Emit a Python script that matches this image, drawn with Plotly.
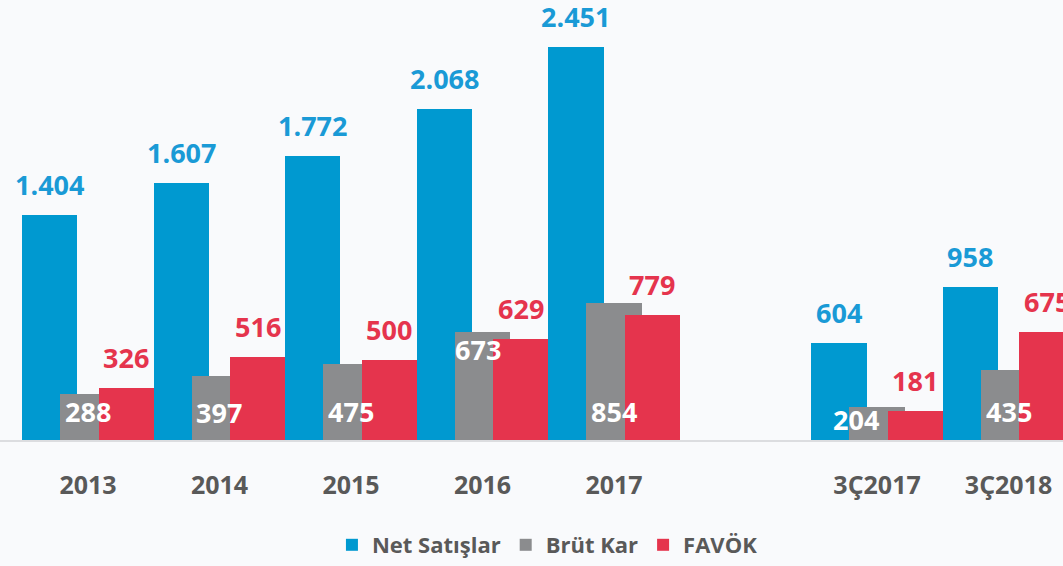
import plotly.graph_objects as go

# data
CATEGORIES = ['2013', '2014', '2015', '2016', '2017', '3Ç2017', '3Ç2018']
NET_SATIS = [1404, 1607, 1772, 2068, 2451, 604, 958]
BRUT_KAR = [288, 397, 475, 673, 854, 204, 435]
FAVOK = [326, 516, 500, 629, 779, 181, 675]

BLUE = '#0099d0'
GREY = '#8b8c8e'
RED = '#e5344d'
TEXT_GREY = '#595959'
FONT = 'Open Sans'

BAR_W = 0.42
OFFSETS = {'net': -0.5, 'brut': -0.21, 'favok': 0.08}

# Brüt Kar labels sit inside the bar, hand placed (data units of baseline)
BRUT_LABEL_Y = [118, 111, 118, 507, 118, 68, 118]
BRUT_LABEL_XSHIFT = [0, 0, 0, -5, 0, -21, 0]


def fmt(v):
    return f"{v:,}".replace(",", ".")


# leave an empty slot between yearly and quarterly groups
pos = [i if i < 5 else i + 1 for i in range(len(CATEGORIES))]

fig = go.Figure()

fig.add_trace(go.Bar(x=pos, y=NET_SATIS, name='Net Satışlar', width=BAR_W,
                     offset=OFFSETS['net'], marker=dict(color=BLUE, line_width=0)))
fig.add_trace(go.Bar(x=pos, y=BRUT_KAR, name='Brüt Kar', width=BAR_W,
                     offset=OFFSETS['brut'], marker=dict(color=GREY, line_width=0)))
fig.add_trace(go.Bar(x=pos, y=FAVOK, name='FAVÖK', width=BAR_W,
                     offset=OFFSETS['favok'], marker=dict(color=RED, line_width=0)))

# value labels
for p, v in zip(pos, NET_SATIS):
    fig.add_annotation(x=p + OFFSETS['net'] + BAR_W / 2, y=v, text=fmt(v),
                       showarrow=False, yanchor='bottom', yshift=10,
                       font=dict(family=FONT, size=27, color='#1a9ad6', weight='bold'))

for p, v in zip(pos, FAVOK):
    fig.add_annotation(x=p + OFFSETS['favok'] + BAR_W / 2, y=v, text=fmt(v),
                       showarrow=False, yanchor='bottom', yshift=10,
                       font=dict(family=FONT, size=27, color=RED, weight='bold'))

for p, v, ly, xs in zip(pos, BRUT_KAR, BRUT_LABEL_Y, BRUT_LABEL_XSHIFT):
    fig.add_annotation(x=p + OFFSETS['brut'] + BAR_W / 2, y=ly, text=fmt(v),
                       showarrow=False, yanchor='bottom', yshift=-11, xshift=xs,
                       font=dict(family=FONT, size=27, color='white', weight='bold'))

fig.update_layout(
    width=1063,
    height=566,
    barmode='overlay',
    bargap=0,
    margin=dict(l=0, r=0, t=0, b=122),
    paper_bgcolor='#f9fafc',
    plot_bgcolor='#f9fafc',
    showlegend=True,
    legend=dict(
        orientation='h',
        x=0.515,
        xanchor='center',
        y=-0.24,
        yanchor='middle',
        font=dict(family=FONT, size=22, color=TEXT_GREY, weight='bold'),
        bgcolor='rgba(0,0,0,0)',
    ),
)

fig.update_xaxes(
    range=[-0.669, 7.414],
    tickvals=pos,
    ticktext=CATEGORIES,
    tickfont=dict(family=FONT, size=25, color=TEXT_GREY, weight='bold'),
    ticklabelstandoff=22,
    showgrid=False,
    zeroline=False,
    showline=True,
    linecolor='#dcdde0',
    linewidth=2,
    ticks='',
)

fig.update_yaxes(
    range=[0, 2747],
    visible=False,
    showgrid=False,
    zeroline=False,
)

fig.write_html("out.html", config={'displayModeBar': False},
               post_script="document.body.style.margin='0';")
